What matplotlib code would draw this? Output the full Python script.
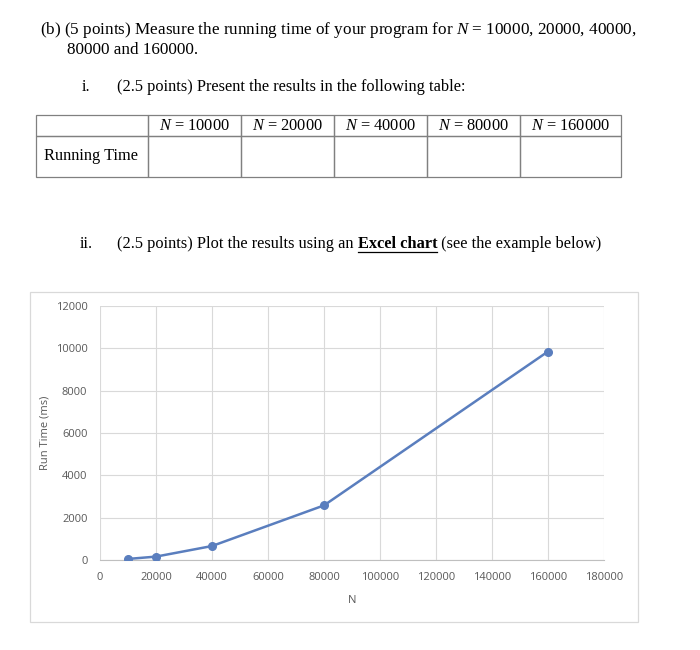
import matplotlib.pyplot as plt
from matplotlib.patches import Rectangle

# data
n_values = [10000, 20000, 40000, 80000, 160000]
run_time_ms = [50, 160, 660, 2580, 9850]
table_headers = ["$N$ = 10000", "$N$ = 20000", "$N$ = 40000", "$N$ = 80000", "$N$ = 160000"]
row_label = "Running Time"
x_ticks = [0, 20000, 40000, 60000, 80000, 100000, 120000, 140000, 160000, 180000]
y_ticks = [0, 2000, 4000, 6000, 8000, 10000, 12000]

plt.rcParams['mathtext.fontset'] = 'custom'
plt.rcParams['mathtext.rm'] = 'Liberation Serif'
plt.rcParams['mathtext.it'] = 'Liberation Serif:italic'

SERIF = 'Liberation Serif'
SANS = 'Open Sans'
W, H = 700, 650

fig = plt.figure(figsize=(7, 6.5), dpi=100)
page = fig.add_axes([0, 0, 1, 1])
page.set_xlim(0, W)
page.set_ylim(H, 0)
page.axis('off')

fs = 12.3
fs2 = 11.8
page.text(40, 30, "(b) (5 points) Measure the running time of your program for $N$ = 10000, 20000, 40000,",
          fontsize=fs, family=SERIF, va='center', ha='left')
page.text(67, 50, "80000 and 160000.", fontsize=fs, family=SERIF, va='center', ha='left')
page.text(82, 87, "i.", fontsize=fs2, family=SERIF, va='center', ha='left')
page.text(117, 87, "(2.5 points) Present the results in the following table:",
          fontsize=fs2, family=SERIF, va='center', ha='left')

# table
edges = [36, 148, 241, 334, 427, 520, 621]
rows = [115, 136, 177]
line_col = '#808080'
for i in range(len(edges) - 1):
    x0, x1 = edges[i], edges[i + 1]
    for j in range(len(rows) - 1):
        page.add_patch(Rectangle((x0, rows[j]), x1 - x0, rows[j + 1] - rows[j],
                                 fill=False, edgecolor=line_col, lw=0.9))
for i, lab in enumerate(table_headers):
    cx = (edges[i + 1] + edges[i + 2]) / 2
    page.text(cx, (rows[0] + rows[1]) / 2 + 0.5, lab, fontsize=fs2, family=SERIF,
              ha='center', va='center')
page.text(44, (rows[1] + rows[2]) / 2, row_label, fontsize=fs2, family=SERIF,
          ha='left', va='center')

# ii. line with bold underlined part
page.text(80, 244, "ii.", fontsize=fs2, family=SERIF, va='center', ha='left')
renderer = fig.canvas.get_renderer()
pieces = [("(2.5 points) Plot the results using an ", 'normal', False),
          ("Excel chart", 'bold', True),
          (" (see the example below)", 'normal', False)]
x_cur = 117
inv = page.transData.inverted()
for txt, weight, underline in pieces:
    t = page.text(x_cur, 244, txt, fontsize=fs2, family=SERIF, weight=weight,
                  va='center', ha='left')
    bb = t.get_window_extent(renderer)
    (px0, _), (px1, _) = inv.transform([[bb.x0, bb.y0], [bb.x1, bb.y1]])
    if underline:
        page.plot([px0, px1], [251.5, 251.5], color='black', lw=0.9)
    x_cur = px1

# chart frame
page.add_patch(Rectangle((30, 292), 608, 330, fill=False, edgecolor='#D9D9D9', lw=0.9))

ax = fig.add_axes([100 / W, (H - 560) / H, 504 / W, (560 - 306) / H])
ax.plot(n_values, run_time_ms, color='#5A7EBE', lw=1.8, marker='o', ms=5.5, zorder=3)
ax.set_xlim(0, 180000)
ax.set_ylim(0, 12000)
ax.set_xticks(x_ticks)
ax.set_yticks(y_ticks)
ax.grid(True, color='#D9D9D9', lw=0.8)
ax.set_axisbelow(True)
for s in ['top', 'right', 'left']:
    ax.spines[s].set_visible(False)
ax.spines['bottom'].set_color('#BFBFBF')
ax.tick_params(length=0, labelsize=8, labelcolor='#595959')
ax.tick_params(axis='y', pad=9)
ax.tick_params(axis='x', pad=9)
for lab in ax.get_xticklabels() + ax.get_yticklabels():
    lab.set_family(SANS)
ax.set_xlabel("N", family=SANS, fontsize=8, color='#595959', labelpad=8)
ax.set_ylabel("Run Time (ms)", family=SANS, fontsize=8, color='#595959', labelpad=4)

fig.savefig("out.png", dpi=100)
